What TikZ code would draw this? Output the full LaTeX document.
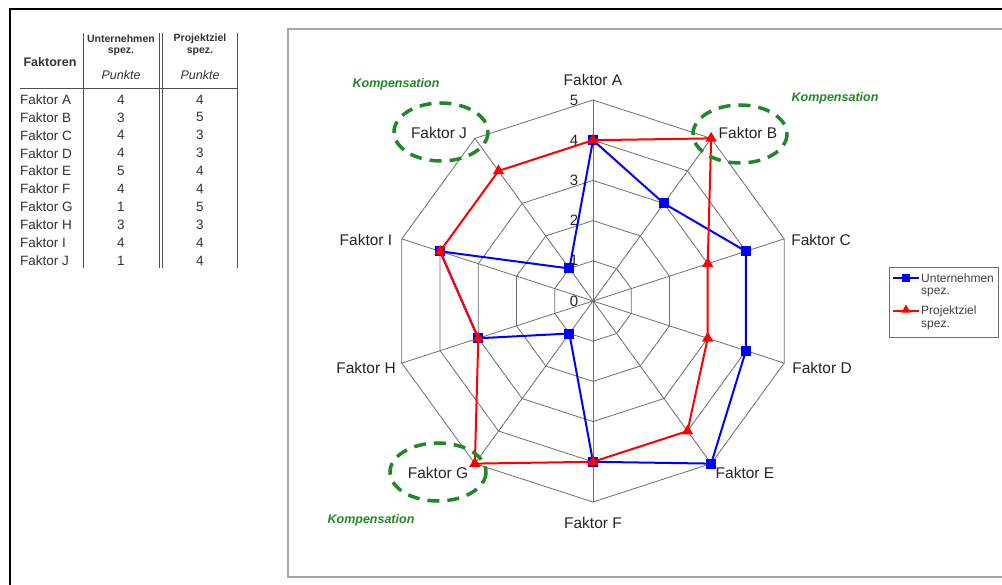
\documentclass[tikz,border=0pt]{standalone}
\usepackage{fontspec}
\setmainfont{Liberation Sans}
\usetikzlibrary{shapes.geometric}
\definecolor{kompgreen}{RGB}{34,135,40}
\definecolor{gridgray}{RGB}{110,110,110}
\definecolor{framegray}{RGB}{165,165,165}
\definecolor{rulegray}{RGB}{80,80,80}
\definecolor{tabtext}{RGB}{50,50,50}
\newcommand\fsz[1]{\fontsize{#1}{#1}\selectfont}
\newcommand\radunit{40.2}
\begin{document}
\begin{tikzpicture}[x=1pt,y=-1pt,
  rowtxt/.style={inner sep=0pt, font={\fsz{13.5}}, text=tabtext},
  hdrtxt/.style={inner sep=0pt, font={\fsz{12.5}\bfseries}, text=tabtext},
  colhd/.style={inner sep=0pt, font={\fsz{10.5}\bfseries}, text=tabtext},
  punkte/.style={inner sep=0pt, font={\fsz{12.5}\itshape}, text=tabtext},
  tabrule/.style={draw=rulegray, line width=0.9pt},
  gridline/.style={draw=gridgray, line width=0.8pt},
  axlabel/.style={inner sep=0pt, font={\fsz{15.5}}, text=black!85},
  ticklabel/.style={inner sep=0pt, font={\fsz{15}}, text=black!85},
  series/.style={line width=2pt, line join=round},
  sqmark/.style={rectangle, fill=blue, minimum size=10pt, inner sep=0pt},
  trimark/.style={regular polygon, regular polygon sides=3, fill=red, minimum size=13pt, inner sep=0pt},
  komp/.style={draw=kompgreen, line width=3.5pt, dash pattern=on 12pt off 8pt},
  komptxt/.style={inner sep=0pt, font={\fsz{12.5}\bfseries\itshape}, text=kompgreen},
  legtxt/.style={inner sep=0pt, anchor=west, font={\fsz{12}}, text=black!75},
]
\useasboundingbox[fill=white] (0,0) rectangle (1002,585);

% outer page frame
\draw[line width=2.5pt] (1002,9) -- (10,9) -- (10,585);

% ---------------- table of factors ----------------
\node[hdrtxt] (fak) at (50,62) {Faktoren};
\node[colhd] (uh1) at (121,38.5) {Unternehmen};
\node[colhd] (uh2) at (121,52) {spez.};
\node[punkte] (uh3) at (121,75) {Punkte};
\node[colhd] (ph1) at (200,38.5) {Projektziel};
\node[colhd] (ph2) at (200,52) {spez.};
\node[punkte] (ph3) at (200,75) {Punkte};

\draw[tabrule] (20,88) -- (237,88);
\draw[tabrule] (83,33) -- (83,268);
\draw[tabrule] (159,33) -- (159,268);
\draw[tabrule] (162,33) -- (162,268);
\draw[tabrule] (237,33) -- (237,268);

\foreach \nm/\uv/\pv [count=\i from 0] in {A/4/4,B/3/5,C/4/3,D/4/3,E/5/4,F/4/4,G/1/5,H/3/3,I/4/4,J/1/4}{
  \node[rowtxt, anchor=west] (row\nm) at (20,99.5+17.9*\i) {Faktor \nm};
  \node[rowtxt] (uval\nm) at (121,99.5+17.9*\i) {\uv};
  \node[rowtxt] (pval\nm) at (200,99.5+17.9*\i) {\pv};
}

% ---------------- chart area ----------------
\draw[draw=framegray, line width=2pt] (1002,29) -- (288,29) -- (288,577) -- (1002,577);

\begin{scope}[shift={(593,301)}]
  % web grid
  \foreach \l in {1,...,5}{
    \draw[gridline] (-90:\l*\radunit) foreach \k in {1,...,9}{ -- (-90+36*\k:\l*\radunit)} -- cycle;
  }
  \foreach \k in {0,...,9}{
    \draw[gridline] (0,0) -- (-90+36*\k:5*\radunit);
  }
  % scale labels
  \foreach \l in {0,...,5}{
    \node[ticklabel] (tick\l) at (-19,-\l*\radunit) {\l};
  }
  % data points
  \foreach \v [count=\k from 0] in {4,3,4,4,5,4,1,3,4,1}{
    \coordinate (u\k) at (-90+36*\k:\v*\radunit);
  }
  \foreach \v [count=\k from 0] in {4,5,3,3,4,4,5,3,4,4}{
    \coordinate (p\k) at (-90+36*\k:\v*\radunit);
  }
  \draw[series, blue] (u0) -- (u1) -- (u2) -- (u3) -- (u4) -- (u5) -- (u6) -- (u7) -- (u8) -- (u9) -- cycle;
  \foreach \k in {0,...,9}{ \node[sqmark] (um\k) at (u\k) {}; }
  \draw[series, red] (p0) -- (p1) -- (p2) -- (p3) -- (p4) -- (p5) -- (p6) -- (p7) -- (p8) -- (p9) -- cycle;
  \foreach \k in {0,...,9}{ \node[trimark] (pm\k) at (p\k) {}; }
\end{scope}

% axis labels
\node[axlabel] (labA) at (593,80) {Faktor A};
\node[axlabel] (labB) at (748,133) {Faktor B};
\node[axlabel] (labC) at (821,240) {Faktor C};
\node[axlabel] (labD) at (822,368) {Faktor D};
\node[axlabel] (labE) at (745,473) {Faktor E};
\node[axlabel] (labF) at (593,523) {Faktor F};
\node[axlabel] (labG) at (438,473) {Faktor G};
\node[axlabel] (labH) at (366,368) {Faktor H};
\node[axlabel] (labI) at (366,240) {Faktor I};
\node[axlabel] (labJ) at (439,133) {Faktor J};

% compensation marks
\draw[komp] (441,132) ellipse [x radius=47, y radius=29];
\draw[komp] (740,134) ellipse [x radius=47, y radius=29];
\draw[komp] (438,472) ellipse [x radius=48, y radius=29];
\node[komptxt] (kompJ) at (396,84) {Kompensation};
\node[komptxt] (kompB) at (835,98) {Kompensation};
\node[komptxt] (kompG) at (371,520) {Kompensation};

% legend
\draw[draw=gridgray, line width=0.8pt, fill=white] (889,267) rectangle (998,337);
\coordinate (lu1) at (893,278);
\coordinate (lu2) at (919,278);
\coordinate (lp1) at (893,311);
\coordinate (lp2) at (919,311);
\draw[series, blue] (lu1) -- (lu2);
\node[sqmark, minimum size=8pt] (lum) at (906,278) {};
\draw[series, red] (lp1) -- (lp2);
\node[trimark, minimum size=11pt] (lpm) at (906,310) {};
\node[legtxt] (leg1) at (921,278) {Unternehmen};
\node[legtxt] (leg2) at (921,293) {spez.};
\node[legtxt] (leg3) at (921,311) {Projektziel};
\node[legtxt] (leg4) at (921,326) {spez.};
\end{tikzpicture}
\end{document}
